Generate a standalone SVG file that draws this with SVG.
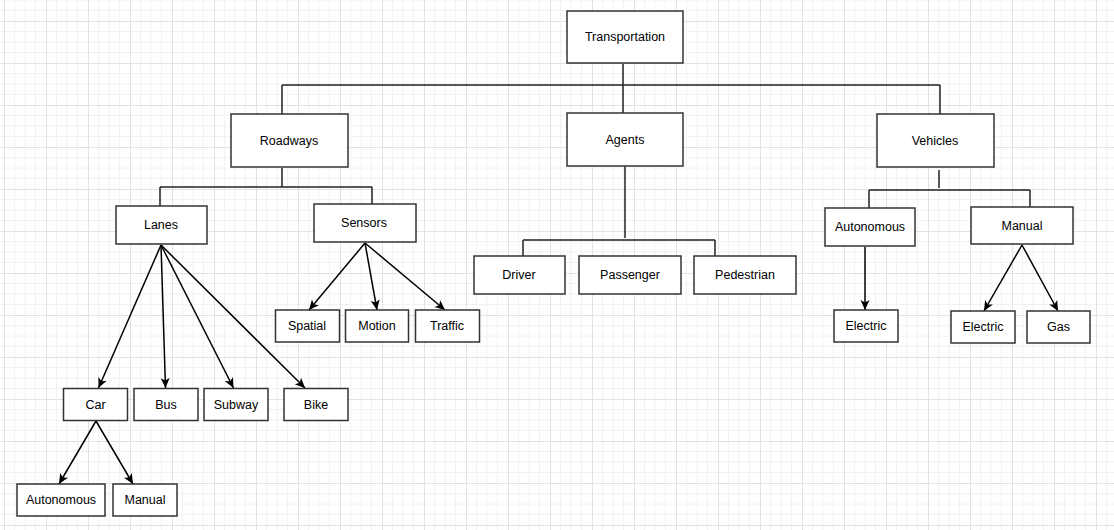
<svg xmlns="http://www.w3.org/2000/svg" width="1114" height="530" viewBox="0 0 1114 530">
  <defs>
    <pattern id="grid" patternUnits="userSpaceOnUse" x="4" y="21" width="42" height="42">
      <path d="M10.5 0V42M21 0V42M31.5 0V42M0 10.5H42M0 21H42M0 31.5H42" stroke="#f2f2f2" stroke-width="1" fill="none"/>
      <path d="M0.5 0V42M0 0.5H42" stroke="#e2e2e2" stroke-width="1" fill="none"/>
    </pattern>
    <marker id="arrow" markerUnits="userSpaceOnUse" markerWidth="12" markerHeight="10" refX="10" refY="5" orient="auto">
      <path d="M0,0.5 L10,5 L0,9.5 L2.5,5 Z" fill="#000"/>
    </marker>
    <style>
      .node rect { fill: #fff; stroke: #333; stroke-width: 1.5; }
      .node text { font-family: "Liberation Sans", Arial, sans-serif; font-size: 12.5px; fill: #000; text-anchor: middle; dominant-baseline: central; }
      .link { fill: none; stroke: #222; stroke-width: 1.5; }
      .arrow { fill: none; stroke: #000; stroke-width: 1.5; marker-end: url(#arrow); }
    </style>
  </defs>

  <rect width="1114" height="530" fill="#fff"/>
  <rect width="1114" height="530" fill="url(#grid)"/>

  <!-- connectors -->
  <g id="connectors">
    <!-- Transportation branches -->
    <path class="link" d="M623 64V113M282 85H940M282 85V114M940 85V114"/>
    <!-- Roadways branches -->
    <path class="link" d="M282 168V187M160 187H372M160 187V206M372 187V204"/>
    <!-- Agents branches -->
    <path class="link" d="M625 166V238M523 240H715M523 240V257M715 240V256"/>
    <!-- Vehicles branches -->
    <path class="link" d="M939 170V188M869 190H1030M869 190V208M1030 190V207"/>

    <!-- Lanes children -->
    <path class="arrow" d="M161 245L98.5 388"/>
    <path class="arrow" d="M161 245L165.5 388"/>
    <path class="arrow" d="M161 245L233.5 388"/>
    <path class="arrow" d="M161 245L305 388"/>
    <!-- Car children -->
    <path class="arrow" d="M96 421L59 484"/>
    <path class="arrow" d="M96 421L133 484"/>
    <!-- Sensors children -->
    <path class="arrow" d="M365 243L309 310"/>
    <path class="arrow" d="M365 243L377 310"/>
    <path class="arrow" d="M365 243L445 310"/>
    <!-- Autonomous child -->
    <path class="arrow" d="M865 247V310"/>
    <!-- Manual children -->
    <path class="arrow" d="M1022 245L984 311"/>
    <path class="arrow" d="M1022 245L1058 311"/>
  </g>

  <g id="transportation" class="node"><rect x="567" y="11" width="116" height="52"/><text x="625" y="37">Transportation</text></g>

  <g id="roadways" class="node"><rect x="231" y="114" width="117" height="53"/><text x="289" y="140.5">Roadways</text></g>
  <g id="agents" class="node"><rect x="567" y="113" width="116" height="53"/><text x="625" y="140">Agents</text></g>
  <g id="vehicles" class="node"><rect x="877" y="114" width="117" height="53"/><text x="935" y="140.5">Vehicles</text></g>

  <g id="lanes" class="node"><rect x="116" y="206" width="91" height="38"/><text x="161" y="225">Lanes</text></g>
  <g id="sensors" class="node"><rect x="314" y="204" width="102" height="38"/><text x="364" y="222.5">Sensors</text></g>

  <g id="driver" class="node"><rect x="474" y="256" width="91" height="38"/><text x="519" y="275">Driver</text></g>
  <g id="passenger" class="node"><rect x="579" y="256" width="102" height="38"/><text x="630" y="275">Passenger</text></g>
  <g id="pedestrian" class="node"><rect x="694" y="256" width="102" height="38"/><text x="745" y="275">Pedestrian</text></g>

  <g id="vehicles-autonomous" class="node"><rect x="825" y="208" width="90" height="38"/><text x="870" y="227">Autonomous</text></g>
  <g id="vehicles-manual" class="node"><rect x="971" y="207" width="102" height="37"/><text x="1022" y="225.5">Manual</text></g>

  <g id="spatial" class="node"><rect x="275.5" y="310" width="64" height="32"/><text x="307" y="326">Spatial</text></g>
  <g id="motion" class="node"><rect x="345.5" y="310" width="63" height="32"/><text x="377" y="326">Motion</text></g>
  <g id="traffic" class="node"><rect x="415.5" y="310" width="64" height="32"/><text x="447" y="326">Traffic</text></g>

  <g id="autonomous-electric" class="node"><rect x="834" y="310" width="64" height="32"/><text x="866" y="326">Electric</text></g>
  <g id="manual-electric" class="node"><rect x="951" y="311" width="64" height="32"/><text x="983" y="327">Electric</text></g>
  <g id="gas" class="node"><rect x="1027" y="311" width="63" height="32"/><text x="1058.5" y="327">Gas</text></g>

  <g id="car" class="node"><rect x="63.5" y="388.5" width="64" height="32"/><text x="95.5" y="404.5">Car</text></g>
  <g id="bus" class="node"><rect x="134" y="388.5" width="64" height="32"/><text x="166" y="404.5">Bus</text></g>
  <g id="subway" class="node"><rect x="204" y="388.5" width="64" height="32"/><text x="236" y="404.5">Subway</text></g>
  <g id="bike" class="node"><rect x="284" y="388.5" width="64" height="32"/><text x="316" y="404.5">Bike</text></g>

  <g id="car-autonomous" class="node"><rect x="17" y="484" width="88" height="32"/><text x="61" y="500">Autonomous</text></g>
  <g id="car-manual" class="node"><rect x="113" y="484" width="64" height="32"/><text x="145" y="500">Manual</text></g>
</svg>
